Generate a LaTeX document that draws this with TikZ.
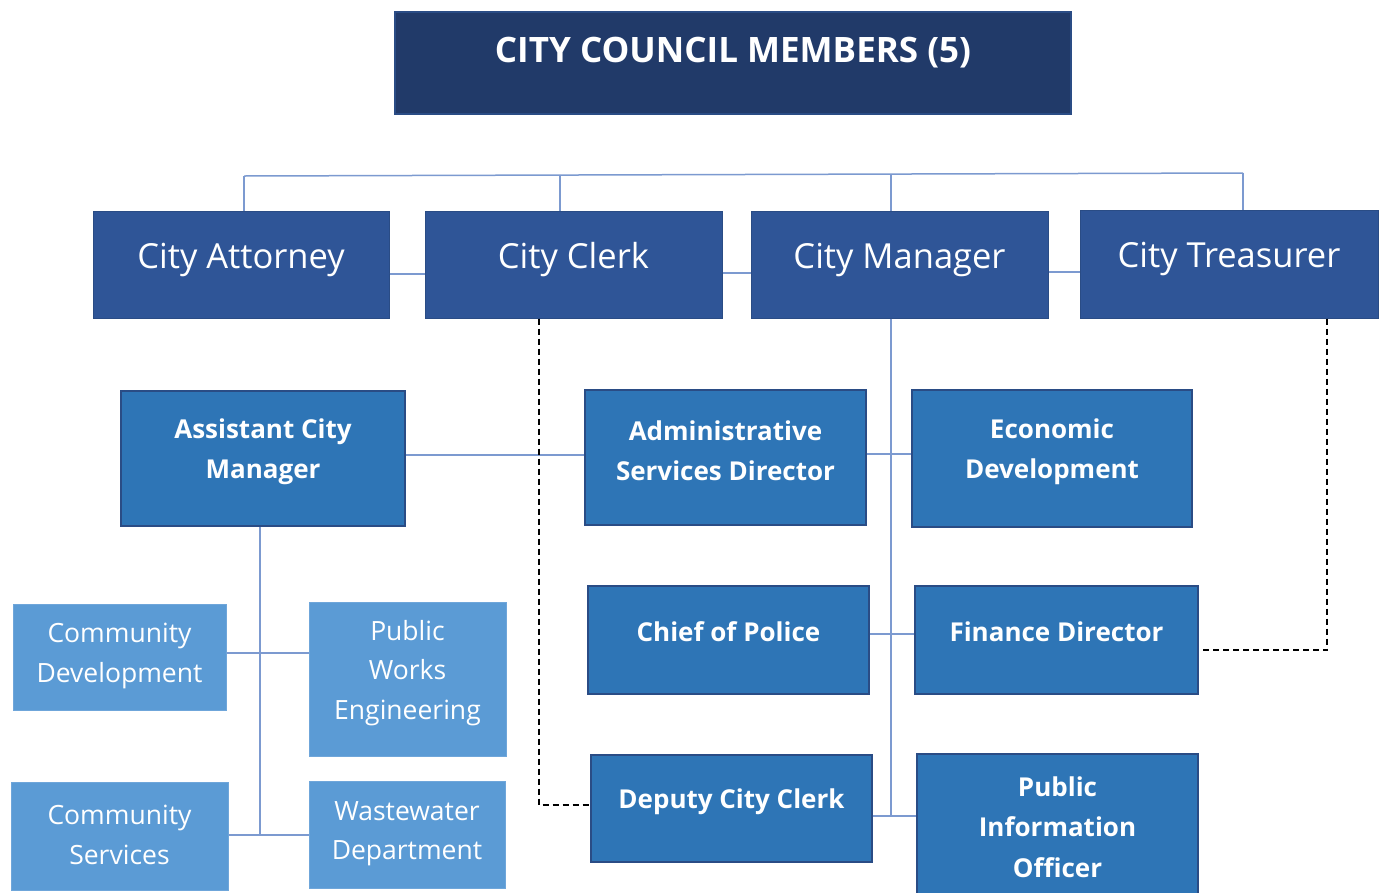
\documentclass[tikz,border=0pt]{standalone}
\usepackage{fontspec}
\setmainfont{Open Sans}
\definecolor{navy}{HTML}{213A69}
\definecolor{topblue}{HTML}{2F5597}
\definecolor{midblue}{HTML}{2E75B6}
\definecolor{lightblue}{HTML}{5B9BD5}
\definecolor{edgedark}{HTML}{2A4C85}
\definecolor{edgelight}{HTML}{6FA6DA}
\definecolor{connblue}{HTML}{7C9AD0}
\tikzset{
  box/.style={rectangle, inner sep=0pt, text=white, align=center},
  councilbox/.style={box, fill=navy, draw=edgedark, line width=1.2pt},
  topbox/.style={box, fill=topblue, draw=edgedark, line width=1pt},
  toptext/.style={text=white, align=center, font=\fontsize{34.5}{40}\selectfont},
  midbox/.style={box, fill=midblue, draw=edgedark, line width=1.5pt},
  lightbox/.style={box, fill=lightblue, draw=edgelight, line width=1pt},
  midtext/.style={text=white, align=center, font=\bfseries\fontsize{26}{40.5}\selectfont},
  lighttext/.style={text=white, align=center, font=\fontsize{26.5}{39.5}\selectfont},
  conn/.style={draw=connblue, line width=1.5pt},
  dashconn/.style={draw=black, line width=2.2pt, dash pattern=on 6pt off 4pt}
}
\begin{document}
\begin{tikzpicture}[x=1pt,y=-1pt]
\useasboundingbox (0,0) rectangle (1387,892);
\clip (0,0) rectangle (1387,892);
\fill[white] (0,0) rectangle (1387,892);

% council
\node[councilbox, minimum width=676, minimum height=102,
  label={[text=white, font=\bfseries\fontsize{35}{40}\selectfont, yshift=10]center:CITY COUNCIL MEMBERS (5)}] (council) at (733,63) {};

% top row
\node[topbox, minimum width=296, minimum height=107,
  label={[toptext, yshift=5]center:City Attorney}] (att) at (241,264.5) {};
\node[topbox, minimum width=297, minimum height=107,
  label={[toptext, yshift=5]center:City Clerk}] (clerk) at (573.5,264.5) {};
\node[topbox, minimum width=297, minimum height=107,
  label={[toptext, yshift=5]center:City Manager}] (mgr) at (899.5,264.5) {};
\node[topbox, minimum width=298, minimum height=108,
  label={[toptext, yshift=5]center:City Treasurer}] (treas) at (1229,264) {};

% bus
\coordinate (busL) at (244,176);
\coordinate (busR) at (1243,173);
\draw[conn] (busL) -- (busR);
\draw[conn] (busL) -- (244,0 |- att.north);
\draw[conn] (560,175) -- (560,0 |- clerk.north);
\draw[conn] (891,174) -- (891,0 |- mgr.north);
\draw[conn] (busR) -- (1243,0 |- treas.north);
% top row links
\draw[conn] (att.east |- 0,274) -- (clerk.west |- 0,274);
\draw[conn] (clerk.east |- 0,273) -- (mgr.west |- 0,273);
\draw[conn] (mgr.east |- 0,272) -- (treas.west |- 0,272);

% mid boxes
\node[midbox, minimum width=284, minimum height=135,
  label={[midtext, yshift=7]center:Assistant City\\Manager}] (acm) at (263,458.5) {};
\node[midbox, minimum width=281, minimum height=135,
  label={[midtext, yshift=7]center:Administrative\\Services Director}] (asd) at (725.5,457.5) {};
\node[midbox, minimum width=280, minimum height=137,
  label={[midtext, yshift=7]center:Economic\\Development}] (econ) at (1052,458.5) {};
\node[midbox, minimum width=281, minimum height=108,
  label={[midtext, yshift=8]center:Chief of Police}] (chief) at (728.5,640) {};
\node[midbox, minimum width=283, minimum height=108,
  label={[midtext, yshift=8]center:Finance Director}] (fin) at (1056.5,640) {};
\node[midbox, minimum width=281, minimum height=107,
  label={[midtext, yshift=7]center:Deputy City Clerk}] (dep) at (731.5,808.5) {};
\node[midbox, minimum width=281, minimum height=146,
  label={[midtext]center:Public\\Information\\Officer}] (pio) at (1057.5,827) {};

% light boxes
\node[lightbox, minimum width=213, minimum height=106,
  label={[lighttext, yshift=1]center:Community\\Development}] (cdev) at (119.5,657) {};
\node[lightbox, minimum width=197, minimum height=154,
  label={[lighttext, yshift=6]center:Public\\Works\\Engineering}] (pwe) at (407.5,679) {};
\node[lightbox, minimum width=217, minimum height=108,
  label={[lighttext, yshift=1]center:Community\\Services}] (csvc) at (119.5,836) {};
\node[lightbox, minimum width=196, minimum height=107,
  label={[lighttext, yshift=1]center:Wastewater\\Department}] (ww) at (407,834.5) {};

% manager spine
\draw[conn] (891,0 |- mgr.south) -- (891,816);
\draw[conn] (acm.east |- 0,455) -- (asd.west |- 0,455);
\draw[conn] (asd.east |- 0,454) -- (econ.west |- 0,454);
\draw[conn] (chief.east |- 0,634) -- (fin.west |- 0,634);
\draw[conn] (dep.east |- 0,816) -- (pio.west |- 0,816);

% assistant city manager spine
\draw[conn] (260,0 |- acm.south) -- (260,835);
\draw[conn] (cdev.east |- 0,653) -- (pwe.west |- 0,653);
\draw[conn] (csvc.east |- 0,835) -- (ww.west |- 0,835);

% dashed links
\draw[dashconn] (539,0 |- clerk.south) -- (539,805) -- (dep.west |- 0,805);
\draw[dashconn] (1327,0 |- treas.south) -- (1327,650) -- (fin.east |- 0,650);
\end{tikzpicture}
\end{document}
